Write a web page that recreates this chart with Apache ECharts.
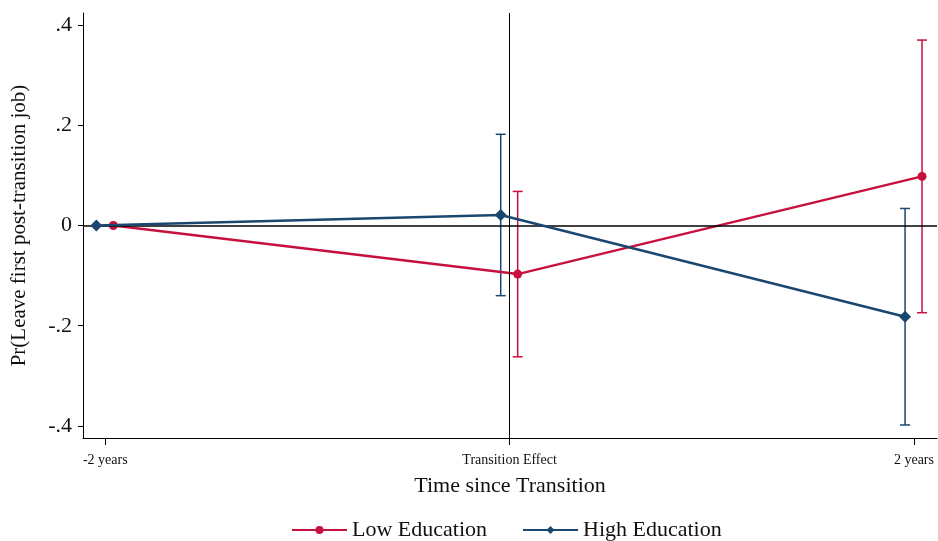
<!DOCTYPE html>
<html>
<head>
<meta charset="utf-8">
<script src="https://cdn.jsdelivr.net/npm/echarts@6/dist/echarts.min.js"></script>
<style>
html, body { margin: 0; padding: 0; background: #fff; }
#main { width: 938px; height: 541px; }
</style>
</head>
<body>
<div id="main"></div>
<script>
// categories on x (positions 0,1,2)
const categories = ['-2 years', 'Transition Effect', '2 years'];
const yTicks = [-0.4, -0.2, 0, 0.2, 0.4];

// Low Education
const lowEst = [0, -0.097, 0.098];
const lowLo = [0, -0.262, -0.174];
const lowHi = [0, 0.068, 0.370];

// High Education
const highEst = [0, 0.021, -0.182];
const highLo = [0, -0.140, -0.398];
const highHi = [0, 0.182, 0.034];

// small horizontal dodge so the two series don't overlap
const lowShift = 0.02;
const highShift = -0.022;

const red = '#c8103e';
const navy = '#1a476f';
const serif = '"Liberation Serif", "DejaVu Serif", serif';

const chart = echarts.init(document.getElementById('main'));

function points(est, shift) {
    return est.map((v, i) => [i + shift, v]);
}
function bars(lo, hi, shift) {
    let out = [];
    for (let i = 0; i < lo.length; i++) {
        if (lo[i] === hi[i]) continue; // no interval at the reference period
        out.push([i + shift, lo[i], hi[i]]);
    }
    return out;
}

function errorBar(color) {
    return function (params, api) {
        const x = api.value(0);
        const p1 = api.coord([x, api.value(1)]);
        const p2 = api.coord([x, api.value(2)]);
        const cap = 5;
        const style = { stroke: color, lineWidth: 1.5 };
        return {
            type: 'group',
            children: [
                { type: 'line', shape: { x1: p1[0], y1: p1[1], x2: p2[0], y2: p2[1] }, style: style },
                { type: 'line', shape: { x1: p1[0] - cap, y1: p1[1], x2: p1[0] + cap, y2: p1[1] }, style: style },
                { type: 'line', shape: { x1: p2[0] - cap, y1: p2[1], x2: p2[0] + cap, y2: p2[1] }, style: style }
            ]
        };
    };
}

const option = {
    animation: false,
    backgroundColor: '#fff',
    textStyle: { fontFamily: serif },
    grid: { left: 83, right: 1, top: 13, bottom: 103, outerBoundsMode: 'none' },
    legend: {
        top: 514,
        left: 286,
        itemWidth: 55,
        itemHeight: 10,
        itemGap: 35,
        textStyle: { fontFamily: serif, fontSize: 22, color: '#111' },
        data: ['Low Education', 'High Education']
    },
    xAxis: {
        type: 'value',
        min: -0.055,
        max: 2.057,
        name: 'Time since Transition',
        nameLocation: 'middle',
        nameGap: 37,
        nameTextStyle: { fontFamily: serif, fontSize: 22, color: '#111' },
        splitLine: { show: false },
        axisLine: { onZero: false, lineStyle: { color: '#000', width: 1 } },
        axisTick: { customValues: [0, 1, 2], length: 7, lineStyle: { color: '#000' } },
        axisLabel: {
            customValues: [0, 1, 2],
            margin: 15,
            fontFamily: serif,
            fontSize: 14,
            color: '#111',
            formatter: v => categories[Math.round(v)]
        }
    },
    yAxis: {
        type: 'value',
        min: -0.424,
        max: 0.424,
        name: 'Pr(Leave first post-transition job)',
        nameLocation: 'middle',
        nameGap: 53,
        nameTextStyle: { fontFamily: serif, fontSize: 21, color: '#111' },
        splitLine: { show: false },
        axisLine: { show: true, onZero: false, lineStyle: { color: '#000', width: 1 } },
        axisTick: { show: true, customValues: yTicks, length: 5, lineStyle: { color: '#000' } },
        axisLabel: {
            customValues: yTicks,
            margin: 11,
            fontFamily: serif,
            fontSize: 22,
            color: '#111',
            formatter: v => {
                if (Math.abs(v) < 1e-9) return '0';
                return (v < 0 ? '-' : '') + String(Math.abs(v).toFixed(1)).replace(/^0/, '');
            }
        }
    },
    series: [
        {
            name: 'Low Education',
            type: 'line',
            data: points(lowEst, lowShift),
            symbol: 'circle',
            symbolSize: 9,
            color: red,
            lineStyle: { color: red, width: 2.5 },
            itemStyle: { color: red },
            z: 4
        },
        {
            name: 'High Education',
            type: 'line',
            data: points(highEst, highShift),
            symbol: 'diamond',
            symbolSize: 12,
            color: navy,
            lineStyle: { color: navy, width: 2.5 },
            itemStyle: { color: navy },
            z: 5
        },
        {
            name: 'ref',
            type: 'line',
            data: [],
            silent: true,
            markLine: {
                symbol: 'none',
                silent: true,
                label: { show: false },
                data: [
                    { yAxis: 0, lineStyle: { color: '#000', width: 1.6, type: 'solid' } },
                    { xAxis: 1, lineStyle: { color: '#000', width: 1, type: 'solid' } }
                ]
            }
        },
        {
            name: 'lowCI',
            type: 'custom',
            renderItem: errorBar(red),
            data: bars(lowLo, lowHi, lowShift),
            encode: { x: 0, y: [1, 2] },
            z: 3
        },
        {
            name: 'highCI',
            type: 'custom',
            renderItem: errorBar(navy),
            data: bars(highLo, highHi, highShift),
            encode: { x: 0, y: [1, 2] },
            z: 3
        }
    ]
};

chart.setOption(option);
</script>
</body>
</html>
